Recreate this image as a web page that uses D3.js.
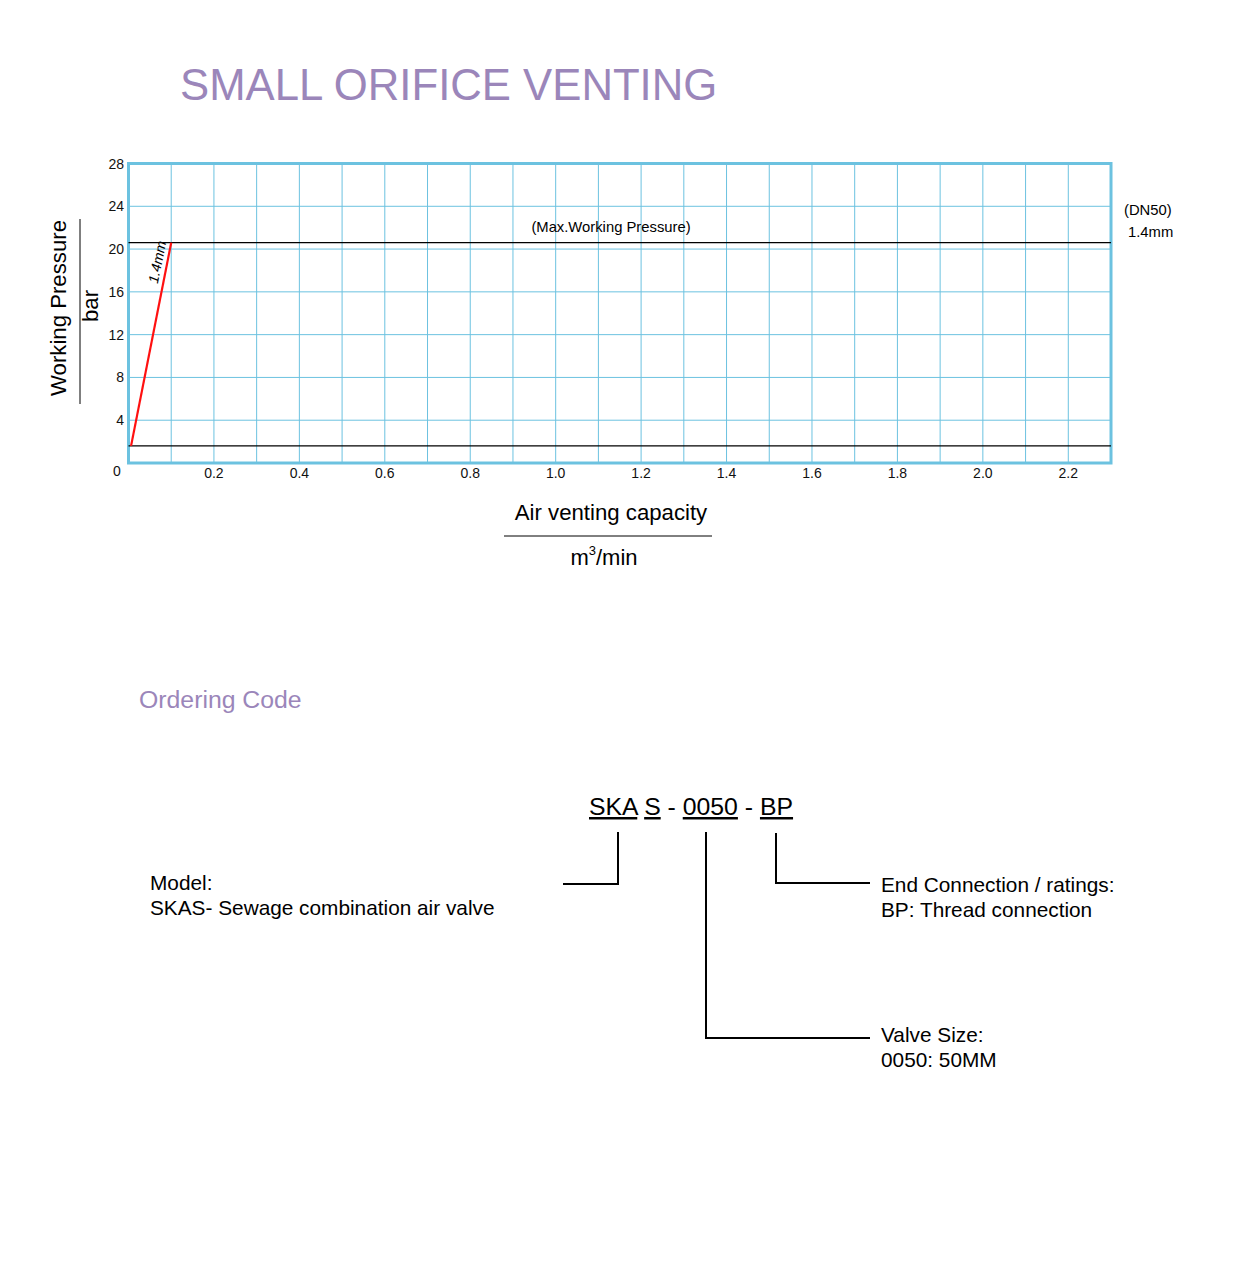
<!DOCTYPE html>
<html>
<head>
<meta charset="utf-8">
<script src="https://cdn.jsdelivr.net/npm/d3@7"></script>
<style>
	body { margin: 0; background: #fff; }
	svg { display: block; font-family: "Liberation Sans", Arial, sans-serif; }
	.grid line { stroke: #6cc2e0; stroke-width: 1; }
	.tick-label { font-size: 14px; fill: #111; }
</style>
</head>
<body>
<svg id="chart" width="1241" height="1266"></svg>
<script>
// chart values
var xGridValues = d3.range(0, 23).map(function(i) { return i / 10; });
var xTickValues = [0.2, 0.4, 0.6, 0.8, 1.0, 1.2, 1.4, 1.6, 1.8, 2.0, 2.2];
var yTickValues = [4, 8, 12, 16, 20, 24, 28];
var curve14mm = [[0.006, 1.6], [0.1, 20.6]];
var maxPressure = 20.6;
var minPressure = 1.6;

var svg = d3.select('#chart');
var purple = '#9b86ba';

var x = d3.scaleLinear().domain([0, 2.3]).range([128.5, 1111]);
var y = d3.scaleLinear().domain([0, 28]).range([463, 163.5]);

//Title
svg.append('text')
	.attr('x', 180).attr('y', 100)
	.attr('font-size', 43.7).attr('fill', purple)
	.text('SMALL ORIFICE VENTING');

//Grid
var grid = svg.append('g').attr('class', 'grid');
grid.selectAll('.vx').data(xGridValues.slice(1)).enter().append('line')
	.attr('x1', function(d) { return x(d); }).attr('x2', function(d) { return x(d); })
	.attr('y1', y(28)).attr('y2', y(0));
grid.selectAll('.hy').data(yTickValues.slice(0, -1)).enter().append('line')
	.attr('x1', x(0)).attr('x2', x(2.3))
	.attr('y1', function(d) { return y(d); }).attr('y2', function(d) { return y(d); });

svg.append('rect')
	.attr('x', x(0)).attr('y', y(28))
	.attr('width', x(2.3) - x(0)).attr('height', y(0) - y(28))
	.attr('fill', 'none').attr('stroke', '#6cc2e0').attr('stroke-width', 3);

//Pressure limits
[maxPressure, minPressure].forEach(function(p) {
	svg.append('line')
		.attr('x1', x(0)).attr('x2', x(2.3))
		.attr('y1', y(p)).attr('y2', y(p))
		.attr('stroke', '#000').attr('stroke-width', 1.2);
});

//Tick labels
svg.selectAll('.ylab').data(yTickValues).enter().append('text')
	.attr('class', 'tick-label')
	.attr('x', 124).attr('y', function(d) { return y(d) + 5; })
	.attr('text-anchor', 'end')
	.text(function(d) { return d; });
svg.selectAll('.xlab').data(xTickValues).enter().append('text')
	.attr('class', 'tick-label')
	.attr('x', function(d) { return x(d); }).attr('y', 478)
	.attr('text-anchor', 'middle')
	.text(function(d) { return d.toFixed(1); });
svg.append('text').attr('class', 'tick-label')
	.attr('x', 117).attr('y', 476).attr('text-anchor', 'middle').text('0');

//Curve
var line = d3.line().x(function(d) { return x(d[0]); }).y(function(d) { return y(d[1]); });
svg.append('path')
	.datum(curve14mm)
	.attr('d', line)
	.attr('fill', 'none').attr('stroke', '#ff1010').attr('stroke-width', 2.2);

var p0 = curve14mm[0], p1 = curve14mm[1];
var angle = Math.atan2(y(p1[1]) - y(p0[1]), x(p1[0]) - x(p0[0])) * 180 / Math.PI;
svg.append('text')
	.attr('transform', 'translate(' + 162 + ',' + 263 + ') rotate(' + angle + ')')
	.attr('text-anchor', 'middle').attr('font-size', 14).attr('font-style', 'italic')
	.text('1.4mm');

svg.append('text')
	.attr('x', 611).attr('y', 232).attr('text-anchor', 'middle').attr('font-size', 14.8)
	.text('(Max.Working Pressure)');
svg.append('text')
	.attr('x', 1124).attr('y', 215).attr('font-size', 14.8).text('(DN50)');
svg.append('text')
	.attr('x', 1128).attr('y', 237).attr('font-size', 14.8).text('1.4mm');

//Axis titles
svg.append('text')
	.attr('transform', 'translate(66,308) rotate(-90)')
	.attr('text-anchor', 'middle').attr('font-size', 22.2)
	.text('Working Pressure');
svg.append('line')
	.attr('x1', 80).attr('x2', 80).attr('y1', 219).attr('y2', 404)
	.attr('stroke', '#000').attr('stroke-width', 1);
svg.append('text')
	.attr('transform', 'translate(98,306) rotate(-90)')
	.attr('text-anchor', 'middle').attr('font-size', 22.2)
	.text('bar');

svg.append('text')
	.attr('x', 611).attr('y', 520).attr('text-anchor', 'middle').attr('font-size', 22.2)
	.text('Air venting capacity');
svg.append('line')
	.attr('x1', 504).attr('x2', 712).attr('y1', 536).attr('y2', 536)
	.attr('stroke', '#000').attr('stroke-width', 1);
var unit = svg.append('text')
	.attr('x', 604).attr('y', 565).attr('text-anchor', 'middle').attr('font-size', 22);
unit.append('tspan').text('m');
unit.append('tspan').attr('font-size', 13).attr('dy', -10).text('3');
unit.append('tspan').attr('dy', 10).text('/min');

//Ordering code
svg.append('text')
	.attr('x', 139).attr('y', 708).attr('font-size', 24.8).attr('fill', purple)
	.text('Ordering Code');

var codeParts = [
	{ text: 'SKA', underline: true },
	{ text: ' ', underline: false },
	{ text: 'S', underline: true },
	{ text: ' - ', underline: false },
	{ text: '0050', underline: true },
	{ text: ' - ', underline: false },
	{ text: 'BP', underline: true }
];
var code = svg.append('text')
	.attr('x', 589).attr('y', 815).attr('font-size', 24.8);
codeParts.forEach(function(part) {
	code.append('tspan')
		.attr('text-decoration', part.underline ? 'underline' : null)
		.style('white-space', 'pre')
		.text(part.text);
});

var connectors = [
	[[563, 884], [618, 884], [618, 832]],
	[[706, 832], [706, 1038], [870, 1038]],
	[[776, 833], [776, 883], [870, 883]]
];
var polyline = d3.line();
connectors.forEach(function(c) {
	svg.append('path').attr('d', polyline(c))
		.attr('fill', 'none').attr('stroke', '#000').attr('stroke-width', 2);
});

var notes = [
	{ x: 150, y: 890, lines: ['Model:', 'SKAS- Sewage combination air valve'] },
	{ x: 881, y: 892, lines: ['End Connection / ratings:', 'BP: Thread connection'] },
	{ x: 881, y: 1042, lines: ['Valve Size:', '0050: 50MM'] }
];
notes.forEach(function(n) {
	n.lines.forEach(function(t, i) {
		svg.append('text')
			.attr('x', n.x).attr('y', n.y + i * 25).attr('font-size', 20.8)
			.text(t);
	});
});
</script>
</body>
</html>
